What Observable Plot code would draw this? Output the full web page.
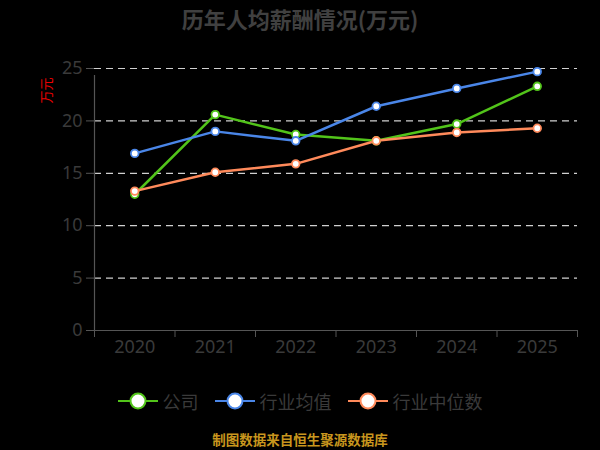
<!DOCTYPE html>
<html><head><meta charset="utf-8">
<script src="https://cdn.jsdelivr.net/npm/d3@7"></script>
<script src="https://cdn.jsdelivr.net/npm/@observablehq/plot@0.6"></script>
<style>
html,body{margin:0;padding:0;background:#000;width:600px;height:450px;overflow:hidden;font-family:"Noto Sans CJK SC","Noto Sans",sans-serif;}
#title{height:38px;line-height:38px;text-align:center;font-size:22px;font-weight:bold;color:#404040;margin-top:-1px;}
#chart{position:relative;height:330px;margin-top:-1px;}
#ylab{position:absolute;left:32px;top:45px;color:#e00;font-size:13px;transform:rotate(-90deg);transform-origin:center;white-space:nowrap;}
#legend{display:flex;justify-content:center;align-items:center;gap:16px;height:36px;margin-top:17px;font-size:18px;color:#3a3a3a;}
#legend .it{display:flex;align-items:center;gap:5px;}
#footer{text-align:center;font-size:13.5px;font-weight:bold;color:#c8961e;margin-top:10px;}
</style></head>
<body>
<div id="title">历年人均薪酬情况(万元)</div>
<div id="chart"><div id="ylab">万元</div></div>
<div id="legend"></div>
<div id="footer">制图数据来自恒生聚源数据库</div>
<script>
const years = [2020, 2021, 2022, 2023, 2024, 2025];
const seriesNames = ["公司", "行业均值", "行业中位数"];
const company = [13.0, 20.6, 18.7, 18.1, 19.7, 23.3];
const industryMean = [16.9, 19.0, 18.1, 21.4, 23.1, 24.7];
const industryMedian = [13.3, 15.1, 15.9, 18.1, 18.9, 19.3];
const colors = ["#52c41a", "#4a86e8", "#ff8a5b"];
const yTicks = [0, 5, 10, 15, 20, 25];

const valuesBySeries = [company, industryMean, industryMedian];
const data = seriesNames.flatMap((s, i) => years.map((y, j) => ({series: s, year: y, value: valuesBySeries[i][j]})));
const boundaries = [years[0] - 0.5, ...years.map(y => y + 0.5)];

const plot = Plot.plot({
  width: 600,
  height: 330,
  marginTop: 32,
  marginBottom: 36,
  marginLeft: 94,
  marginRight: 23,
  style: {background: "transparent", color: "#3a3a3a", fontFamily: "'Noto Sans', sans-serif", fontSize: "18px"},
  x: {domain: [boundaries[0], boundaries[boundaries.length - 1]]},
  y: {domain: [0, 25]},
  color: {domain: seriesNames, range: colors},
  marks: [
    Plot.ruleY(yTicks.filter(d => d > 0), {stroke: "#d0d0d0", strokeDasharray: "7,5", strokeWidth: 1.2}),
    Plot.ruleY([0], {stroke: "#555", strokeWidth: 1.2}),
    Plot.ruleX([boundaries[0]], {y1: 0, y2: 25, stroke: "#555", strokeWidth: 1.2, insetBottom: -7}),
    Plot.axisY({ticks: yTicks, tickSize: 8, tickPadding: 4, stroke: "#555", fill: "#3a3a3a", fontSize: 18, label: null}),
    Plot.axisX({ticks: boundaries, tickSize: 7, tickFormat: () => "", stroke: "#555", label: null}),
    Plot.axisX({ticks: years, tickSize: 0, tickPadding: 10, tickFormat: d => String(d), fill: "#3a3a3a", fontSize: 18, label: null}),
    Plot.line(data, {x: "year", y: "value", z: "series", stroke: "series", strokeWidth: 2.5}),
    Plot.dot(data, {x: "year", y: "value", stroke: "series", fill: "#fff", r: 3.8, strokeWidth: 1.8})
  ]
});
document.getElementById("chart").appendChild(plot);

const legend = document.getElementById("legend");
seriesNames.forEach((s, i) => {
  const it = document.createElement("div");
  it.className = "it";
  it.innerHTML = `<svg width="40" height="20"><line x1="0" x2="40" y1="10" y2="10" stroke="${colors[i]}" stroke-width="2"/><circle cx="20" cy="10" r="7.5" fill="#fff" stroke="${colors[i]}" stroke-width="2"/></svg><span>${s}</span>`;
  legend.appendChild(it);
});
</script>
</body></html>
